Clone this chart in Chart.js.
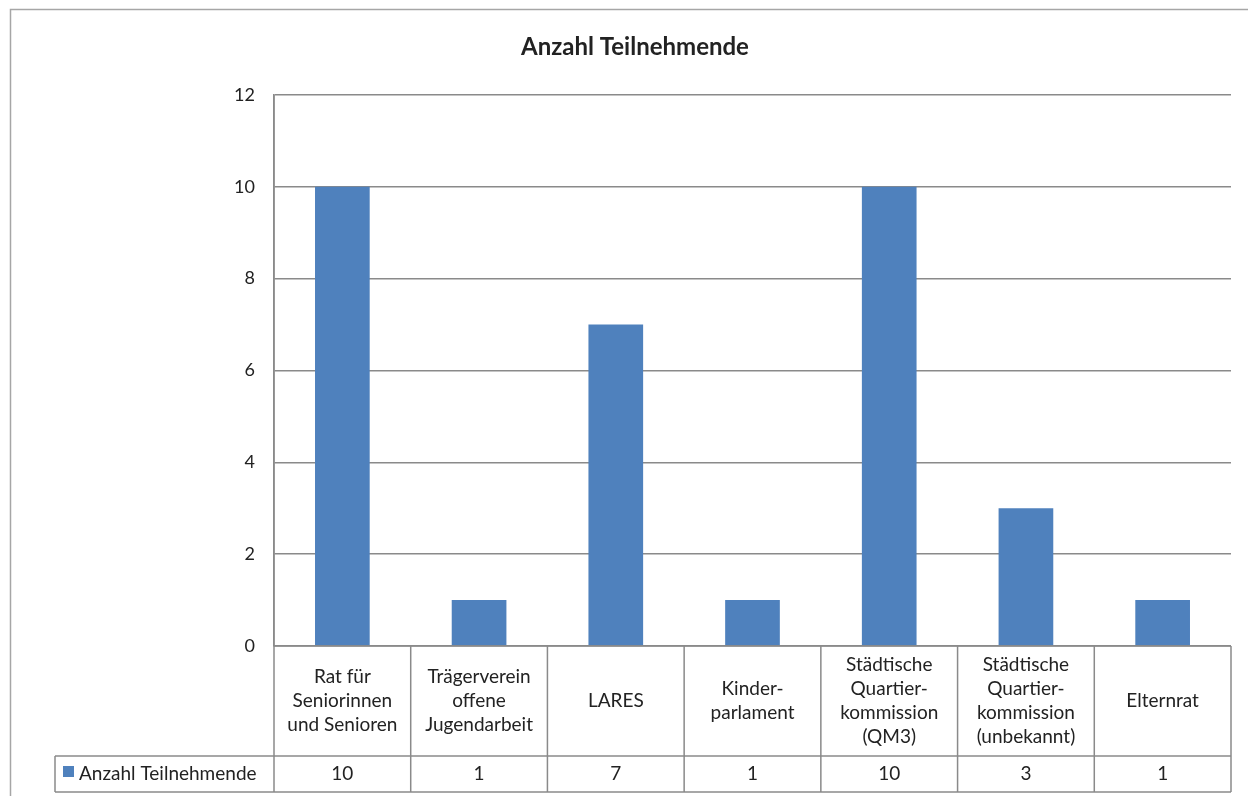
<!DOCTYPE html>
<html><head><meta charset="utf-8">
<script src="https://cdn.jsdelivr.net/npm/chart.js@4"></script>
<style>html,body{margin:0;padding:0;background:#fff}#wrap{width:1248px;height:796px}</style>
</head><body><div id="wrap"><canvas id="c" width="1248" height="796"></canvas></div>
<script>
const chartTitle = "Anzahl Teilnehmende";
const seriesName = "Anzahl Teilnehmende";
const categories = [
  ["Rat für", "Seniorinnen", "und Senioren"],
  ["Trägerverein", "offene", "Jugendarbeit"],
  ["LARES"],
  ["Kinder-", "parlament"],
  ["Städtische", "Quartier-", "kommission", "(QM3)"],
  ["Städtische", "Quartier-", "kommission", "(unbekannt)"],
  ["Elternrat"]
];
const values = [10, 1, 7, 1, 10, 3, 1];
const yTicks = [0, 2, 4, 6, 8, 10, 12];

const FONT = "Lato";
const TXT = "#222222";
const LINE = "#8a8a8a";
const BAR = "#4F81BD";

const tablePlugin = {
  id: "tablePlugin",
  afterDraw(chart) {
    const ctx = chart.ctx;
    const ca = chart.chartArea;
    const x = chart.scales.x;
    const n = categories.length;
    const cw = (ca.right - ca.left) / n;
    const row1Top = ca.bottom, row1Bot = ca.bottom + 110, row2Bot = row1Bot + 36;
    const legLeft = 55;
    ctx.save();
    // outer frame
    ctx.strokeStyle = "#a6a6a6"; ctx.lineWidth = 1.5;
    ctx.beginPath(); ctx.moveTo(10.5, 900); ctx.lineTo(10.5, 9.5); ctx.lineTo(1300, 9.5); ctx.stroke();
    // title
    ctx.fillStyle = TXT; ctx.font = "bold 24px " + FONT; ctx.textAlign = "center"; ctx.textBaseline = "middle";
    ctx.fillText(chartTitle, 635, 47);
    // table lines
    ctx.strokeStyle = LINE; ctx.lineWidth = 1.5;
    ctx.beginPath();
    ctx.moveTo(ca.left, ca.top); ctx.lineTo(ca.left, row2Bot);
    ctx.moveTo(ca.left, row1Top); ctx.lineTo(ca.right, row1Top);
    ctx.moveTo(legLeft, row1Bot); ctx.lineTo(ca.right, row1Bot);
    ctx.moveTo(legLeft, row2Bot); ctx.lineTo(ca.right, row2Bot);
    ctx.moveTo(legLeft, row1Bot); ctx.lineTo(legLeft, row2Bot);
    for (let i = 1; i <= n; i++) {
      const bx = x.getPixelForValue(i - 1) + cw / 2;
      ctx.moveTo(bx, row1Top); ctx.lineTo(bx, row2Bot);
    }
    ctx.stroke();
    // category labels
    ctx.fillStyle = TXT; ctx.font = "19px " + FONT; ctx.textAlign = "center"; ctx.textBaseline = "middle";
    const lh = 24;
    categories.forEach((lines, i) => {
      const cx = x.getPixelForValue(i);
      const cy = (row1Top + row1Bot) / 2;
      lines.forEach((t, k) => {
        ctx.fillText(t, cx, cy + (k - (lines.length - 1) / 2) * lh);
      });
      ctx.fillText(String(values[i]), cx, (row1Bot + row2Bot) / 2);
    });
    // legend cell
    ctx.fillStyle = BAR; ctx.fillRect(63, 766, 11, 11);
    ctx.fillStyle = TXT; ctx.textAlign = "left";
    ctx.fillText(seriesName, 79, (row1Bot + row2Bot) / 2);
    ctx.restore();
  }
};

new Chart(document.getElementById("c"), {
  type: "bar",
  data: {
    labels: categories,
    datasets: [{ label: seriesName, data: values, backgroundColor: BAR, borderWidth: 0,
      categoryPercentage: 1.0, barPercentage: 0.4 }]
  },
  options: {
    responsive: false, animation: false,
    layout: { padding: { left: 0, top: 95, right: 17, bottom: 150 } },
    plugins: { legend: { display: false }, title: { display: false }, tooltip: { enabled: false } },
    scales: {
      x: { display: false, grid: { display: false } },
      y: {
        min: 0, max: 12,
        afterFit(s) { s.width = 274; },
        afterBuildTicks(s) { s.ticks = yTicks.map(v => ({ value: v })); },
        ticks: { color: TXT, font: { family: FONT, size: 18 }, padding: 19 },
        grid: { color: LINE, lineWidth: 1.5, tickLength: 0, drawTicks: false },
        border: { display: true, color: LINE, width: 1.5 }
      }
    }
  },
  plugins: [tablePlugin]
});
</script></body></html>
